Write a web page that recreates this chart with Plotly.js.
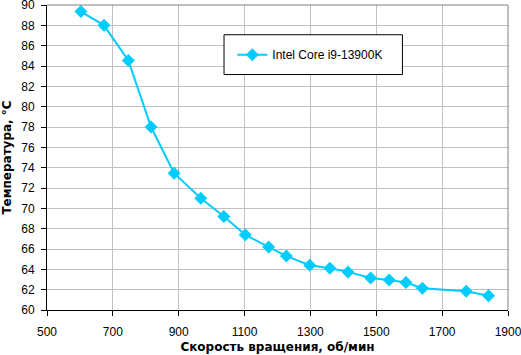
<!DOCTYPE html>
<html><head><meta charset="utf-8">
<script src="https://cdn.plot.ly/plotly-3.0.1.min.js"></script>
<style>body{margin:0;background:#fff}#c{width:521px;height:355px}</style>
</head><body><div id="c"></div>
<script>
const seriesName = "Intel Core i9-13900K";
const rpm = [603, 673, 747, 816, 886, 967, 1037, 1102, 1173, 1227, 1298, 1359, 1414, 1483, 1539, 1590, 1640, 1773, 1841];
const temp = [89.35, 88.0, 84.55, 78.0, 73.45, 71.0, 69.2, 67.4, 66.2, 65.3, 64.4, 64.1, 63.75, 63.15, 62.95, 62.7, 62.15, 61.85, 61.4];
const xTicks = [500, 700, 900, 1100, 1300, 1500, 1700, 1900];
const yTicks = [60, 62, 64, 66, 68, 70, 72, 74, 76, 78, 80, 82, 84, 86, 88, 90];

const trace = {
  x: rpm, y: temp, name: seriesName, type: 'scatter', mode: 'lines+markers',
  line: {color: '#00ccff', width: 2},
  marker: {symbol: 'diamond', size: 10, color: '#00ccff'}
};
const font = {family: 'Liberation Sans, Arial, sans-serif', size: 12, color: '#000'};
const titleFont = {family: 'DejaVu Sans, sans-serif', size: 12, color: '#000'};
const layout = {
  width: 521, height: 355,
  margin: {l: 47, r: 13, t: 5, b: 45},
  paper_bgcolor: '#fff', plot_bgcolor: '#fff',
  font: font,
  showlegend: true,
  legend: {x: 0.402, y: 0.837, xanchor: 'left', yanchor: 'middle', bgcolor: 'rgba(0,0,0,0)', borderwidth: 0, font: font},
  xaxis: {
    range: [500, 1900], tickvals: xTicks, ticktext: xTicks.map(String),
    showgrid: true, gridcolor: '#c0c0c0', gridwidth: 1,
    showline: true, linecolor: '#000', linewidth: 1,
    ticks: 'outside', ticklen: 5, tickcolor: '#000', zeroline: false,
    ticklabelstandoff: 6, ticklabeloverflow: 'allow',
    title: {text: '<b>Скорость вращения, об/мин</b>', font: titleFont, standoff: 4}
  },
  yaxis: {
    range: [60, 90], tickvals: yTicks, ticktext: yTicks.map(String),
    showgrid: true, gridcolor: '#c0c0c0', gridwidth: 1,
    showline: true, linecolor: '#000', linewidth: 1,
    ticks: 'outside', ticklen: 5, tickcolor: '#000', zeroline: false,
    ticklabelstandoff: 4, ticklabeloverflow: 'allow',
    title: {text: '<b>Температура, °C</b>', font: titleFont, standoff: 8}
  },
  shapes: [
    {type: 'line', xref: 'paper', yref: 'paper', x0: 0, x1: 1, y0: 1, y1: 1, line: {color: '#808080', width: 1}},
    {type: 'line', xref: 'paper', yref: 'paper', x0: 1, x1: 1, y0: 0, y1: 1, line: {color: '#808080', width: 1}},
    {type: 'rect', xref: 'paper', yref: 'paper', x0: 0.384, x1: 0.771, y0: 0.772, y1: 0.9025, fillcolor: '#fff', line: {color: '#000', width: 1}, layer: 'above'}
  ]
};
Plotly.newPlot('c', [trace], layout, {staticPlot: true, displayModeBar: false});
</script></body></html>
